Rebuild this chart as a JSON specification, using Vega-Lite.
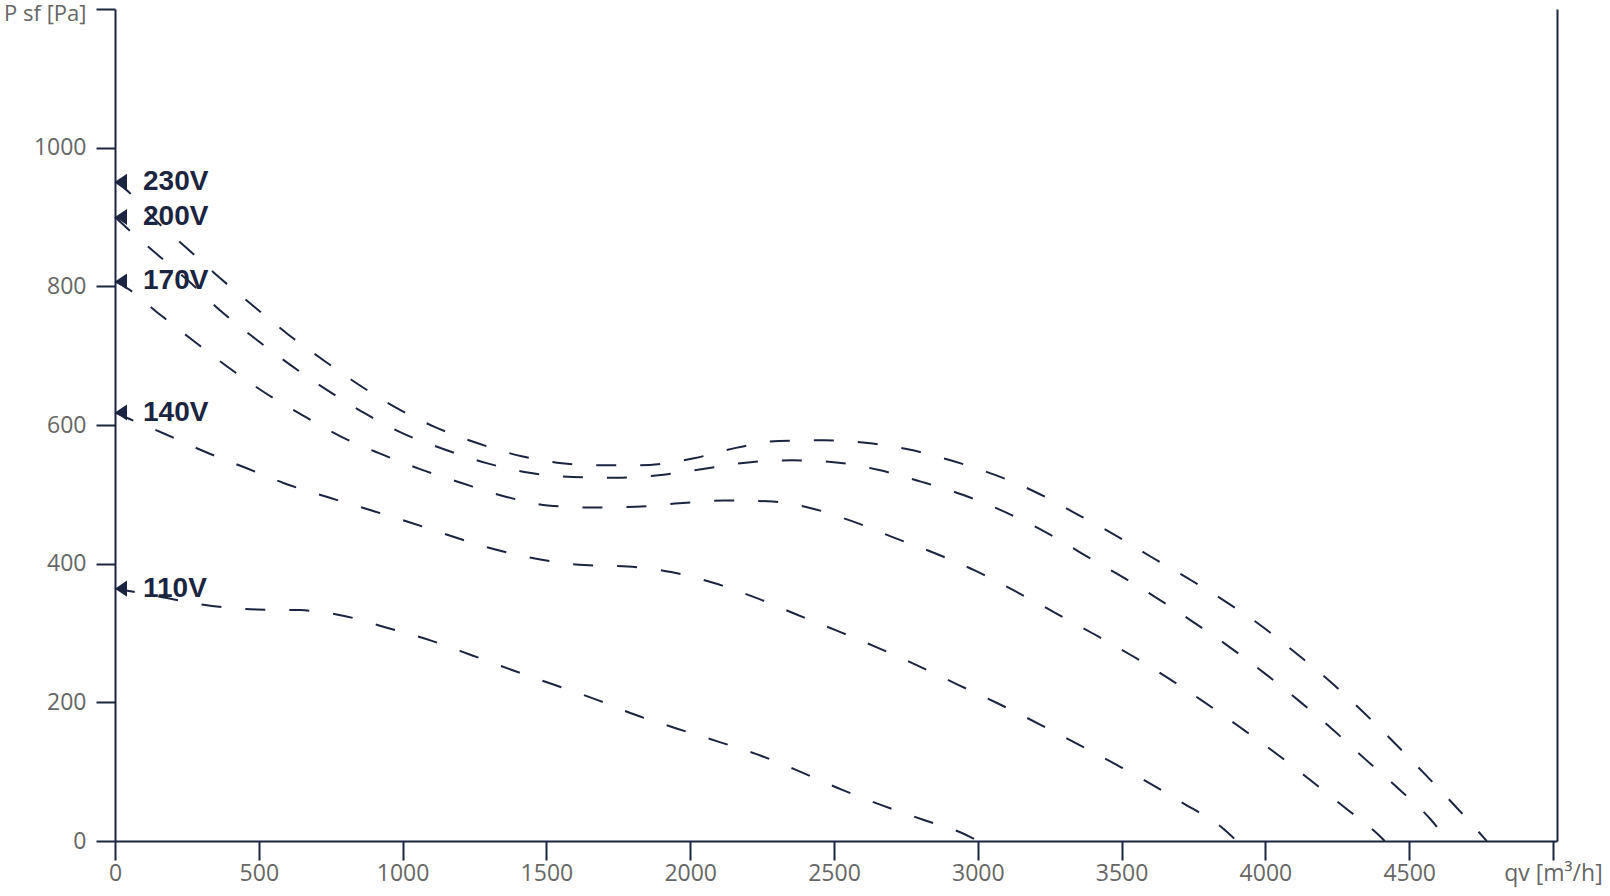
{
  "$schema": "https://vega.github.io/schema/vega-lite/v6.json",
  "width": 1442,
  "height": 832,
  "autosize": {"type": "none"},
  "padding": {"left": 115, "top": 9, "right": 53, "bottom": 55},
  "background": "white",
  "config": {
    "view": {"stroke": null},
    "axis": {
      "grid": false,
      "domainColor": "#1b2440",
      "domainWidth": 2,
      "tickColor": "#1b2440",
      "tickWidth": 2,
      "tickSize": 19,
      "labelFont": "Open Sans",
      "labelFontSize": 23,
      "labelColor": "#666666",
      "labelFlush": false,
      "labelOverlap": false,
      "title": null
    }
  },
  "datasets": {
    "curves": [
      {"v": "230V", "q": 0, "p": 951}, {"v": "230V", "q": 31, "p": 942}, {"v": "230V", "q": 139, "p": 896},
      {"v": "230V", "q": 250, "p": 855}, {"v": "230V", "q": 365, "p": 812}, {"v": "230V", "q": 480, "p": 772},
      {"v": "230V", "q": 601, "p": 731}, {"v": "230V", "q": 723, "p": 694}, {"v": "230V", "q": 848, "p": 658},
      {"v": "230V", "q": 977, "p": 625}, {"v": "230V", "q": 1113, "p": 597}, {"v": "230V", "q": 1259, "p": 574},
      {"v": "230V", "q": 1414, "p": 555}, {"v": "230V", "q": 1554, "p": 545}, {"v": "230V", "q": 1673, "p": 542},
      {"v": "230V", "q": 1825, "p": 542}, {"v": "230V", "q": 2013, "p": 552}, {"v": "230V", "q": 2159, "p": 567},
      {"v": "230V", "q": 2309, "p": 577}, {"v": "230V", "q": 2465, "p": 578}, {"v": "230V", "q": 2618, "p": 574},
      {"v": "230V", "q": 2757, "p": 565}, {"v": "230V", "q": 2914, "p": 548}, {"v": "230V", "q": 3060, "p": 528},
      {"v": "230V", "q": 3202, "p": 503}, {"v": "230V", "q": 3338, "p": 473}, {"v": "230V", "q": 3470, "p": 443},
      {"v": "230V", "q": 3602, "p": 410}, {"v": "230V", "q": 3734, "p": 378}, {"v": "230V", "q": 3863, "p": 345},
      {"v": "230V", "q": 3990, "p": 309}, {"v": "230V", "q": 4112, "p": 269}, {"v": "230V", "q": 4228, "p": 229},
      {"v": "230V", "q": 4340, "p": 186}, {"v": "230V", "q": 4450, "p": 141}, {"v": "230V", "q": 4558, "p": 95},
      {"v": "230V", "q": 4663, "p": 49}, {"v": "230V", "q": 4770, "p": 0},

      {"v": "200V", "q": 0, "p": 900}, {"v": "200V", "q": 31, "p": 888}, {"v": "200V", "q": 141, "p": 848},
      {"v": "200V", "q": 252, "p": 809}, {"v": "200V", "q": 369, "p": 764}, {"v": "200V", "q": 489, "p": 724},
      {"v": "200V", "q": 612, "p": 686}, {"v": "200V", "q": 739, "p": 650}, {"v": "200V", "q": 868, "p": 617},
      {"v": "200V", "q": 1001, "p": 588}, {"v": "200V", "q": 1144, "p": 565}, {"v": "200V", "q": 1292, "p": 545},
      {"v": "200V", "q": 1441, "p": 531}, {"v": "200V", "q": 1592, "p": 525}, {"v": "200V", "q": 1745, "p": 524},
      {"v": "200V", "q": 1899, "p": 528}, {"v": "200V", "q": 2050, "p": 537}, {"v": "200V", "q": 2201, "p": 546},
      {"v": "200V", "q": 2355, "p": 549}, {"v": "200V", "q": 2508, "p": 546}, {"v": "200V", "q": 2657, "p": 535},
      {"v": "200V", "q": 2805, "p": 518}, {"v": "200V", "q": 2950, "p": 499}, {"v": "200V", "q": 3092, "p": 475},
      {"v": "200V", "q": 3229, "p": 447}, {"v": "200V", "q": 3361, "p": 415}, {"v": "200V", "q": 3494, "p": 383},
      {"v": "200V", "q": 3624, "p": 350}, {"v": "200V", "q": 3752, "p": 315}, {"v": "200V", "q": 3878, "p": 279},
      {"v": "200V", "q": 4000, "p": 241}, {"v": "200V", "q": 4120, "p": 201}, {"v": "200V", "q": 4236, "p": 160},
      {"v": "200V", "q": 4350, "p": 117}, {"v": "200V", "q": 4464, "p": 75}, {"v": "200V", "q": 4575, "p": 31},
      {"v": "200V", "q": 4635, "p": 0},

      {"v": "170V", "q": 0, "p": 807}, {"v": "170V", "q": 32, "p": 800}, {"v": "170V", "q": 148, "p": 762},
      {"v": "170V", "q": 268, "p": 723}, {"v": "170V", "q": 391, "p": 684}, {"v": "170V", "q": 516, "p": 648},
      {"v": "170V", "q": 648, "p": 615}, {"v": "170V", "q": 782, "p": 584}, {"v": "170V", "q": 920, "p": 559},
      {"v": "170V", "q": 1063, "p": 536}, {"v": "170V", "q": 1208, "p": 516}, {"v": "170V", "q": 1355, "p": 497},
      {"v": "170V", "q": 1504, "p": 484}, {"v": "170V", "q": 1657, "p": 481}, {"v": "170V", "q": 1811, "p": 482},
      {"v": "170V", "q": 1962, "p": 487}, {"v": "170V", "q": 2115, "p": 491}, {"v": "170V", "q": 2269, "p": 490},
      {"v": "170V", "q": 2420, "p": 480}, {"v": "170V", "q": 2565, "p": 461}, {"v": "170V", "q": 2706, "p": 438},
      {"v": "170V", "q": 2851, "p": 415}, {"v": "170V", "q": 2991, "p": 390}, {"v": "170V", "q": 3127, "p": 361},
      {"v": "170V", "q": 3261, "p": 331}, {"v": "170V", "q": 3397, "p": 300}, {"v": "170V", "q": 3529, "p": 269},
      {"v": "170V", "q": 3658, "p": 236}, {"v": "170V", "q": 3785, "p": 201}, {"v": "170V", "q": 3912, "p": 164},
      {"v": "170V", "q": 4035, "p": 127}, {"v": "170V", "q": 4156, "p": 88}, {"v": "170V", "q": 4277, "p": 48},
      {"v": "170V", "q": 4393, "p": 9}, {"v": "170V", "q": 4415, "p": 0},

      {"v": "140V", "q": 0, "p": 618}, {"v": "140V", "q": 49, "p": 609}, {"v": "140V", "q": 174, "p": 587},
      {"v": "140V", "q": 315, "p": 561}, {"v": "140V", "q": 456, "p": 538}, {"v": "140V", "q": 588, "p": 516},
      {"v": "140V", "q": 747, "p": 495}, {"v": "140V", "q": 890, "p": 477}, {"v": "140V", "q": 1037, "p": 458},
      {"v": "140V", "q": 1182, "p": 438}, {"v": "140V", "q": 1326, "p": 420}, {"v": "140V", "q": 1479, "p": 406},
      {"v": "140V", "q": 1632, "p": 398}, {"v": "140V", "q": 1783, "p": 396}, {"v": "140V", "q": 1934, "p": 388},
      {"v": "140V", "q": 2083, "p": 372}, {"v": "140V", "q": 2227, "p": 351}, {"v": "140V", "q": 2368, "p": 327},
      {"v": "140V", "q": 2512, "p": 303}, {"v": "140V", "q": 2651, "p": 279}, {"v": "140V", "q": 2791, "p": 253},
      {"v": "140V", "q": 2928, "p": 226}, {"v": "140V", "q": 3067, "p": 199}, {"v": "140V", "q": 3300, "p": 150},
      {"v": "140V", "q": 3500, "p": 106}, {"v": "140V", "q": 3700, "p": 58}, {"v": "140V", "q": 3867, "p": 13},
      {"v": "140V", "q": 3900, "p": 0},

      {"v": "110V", "q": 0, "p": 364}, {"v": "110V", "q": 70, "p": 359}, {"v": "110V", "q": 185, "p": 350},
      {"v": "110V", "q": 337, "p": 339}, {"v": "110V", "q": 493, "p": 334}, {"v": "110V", "q": 643, "p": 333},
      {"v": "110V", "q": 793, "p": 325}, {"v": "110V", "q": 942, "p": 308}, {"v": "110V", "q": 1099, "p": 289},
      {"v": "110V", "q": 1240, "p": 268}, {"v": "110V", "q": 1378, "p": 247}, {"v": "110V", "q": 1522, "p": 226},
      {"v": "110V", "q": 1667, "p": 205}, {"v": "110V", "q": 1809, "p": 182}, {"v": "110V", "q": 1955, "p": 162},
      {"v": "110V", "q": 2100, "p": 143}, {"v": "110V", "q": 2246, "p": 123}, {"v": "110V", "q": 2388, "p": 99},
      {"v": "110V", "q": 2527, "p": 74}, {"v": "110V", "q": 2670, "p": 51}, {"v": "110V", "q": 2815, "p": 30},
      {"v": "110V", "q": 2958, "p": 9}, {"v": "110V", "q": 3000, "p": 0}
    ],
    "labels": [
      {"v": "230V", "q": 0, "p": 951},
      {"v": "200V", "q": 0, "p": 900},
      {"v": "170V", "q": 0, "p": 807},
      {"v": "140V", "q": 0, "p": 618},
      {"v": "110V", "q": 0, "p": 364}
    ]
  },
  "layer": [
    {
      "data": {"name": "curves"},
      "mark": {"type": "line", "color": "#1b2440", "strokeWidth": 2, "strokeDash": [20, 24], "interpolate": "monotone"},
      "encoding": {
        "x": {
          "field": "q", "type": "quantitative",
          "scale": {"domain": [0, 5014], "nice": false, "zero": false},
          "axis": {
            "orient": "bottom",
            "values": [0, 500, 1000, 1500, 2000, 2500, 3000, 3500, 4000, 4500, 5000],
            "format": "d",
            "labelPadding": 2,
            "labelExpr": "datum.value == 5000 ? 'qv [m³/h]' : datum.label"
          }
        },
        "y": {
          "field": "p", "type": "quantitative",
          "scale": {"domain": [0, 1200], "nice": false, "zero": false},
          "axis": {
            "orient": "left",
            "values": [0, 200, 400, 600, 800, 1000, 1200],
            "format": "d",
            "labelPadding": 10,
            "labelFontSize": {"condition": {"test": "datum.value == 1200", "value": 22}, "value": 23},
            "labelOffset": {"condition": {"test": "datum.value == 1200", "value": 4}, "value": 0},
            "labelExpr": "datum.value == 1200 ? 'P sf [Pa]' : datum.label"
          }
        },
        "detail": {"field": "v", "type": "nominal"},
        "order": {"field": "q", "type": "quantitative"}
      }
    },
    {
      "data": {"name": "labels"},
      "mark": {"type": "point", "shape": "M0,0L1,-0.667L1,0.667Z", "size": 576, "filled": true, "opacity": 1, "color": "#1b2440", "strokeWidth": 0},
      "encoding": {
        "x": {"field": "q", "type": "quantitative", "scale": {"domain": [0, 5014], "nice": false, "zero": false}},
        "y": {"field": "p", "type": "quantitative", "scale": {"domain": [0, 1200], "nice": false, "zero": false}, "axis": null}
      }
    },
    {
      "data": {"name": "labels"},
      "mark": {"type": "text", "align": "left", "baseline": "middle", "dx": 28, "dy": 0, "font": "Liberation Sans", "fontWeight": "bold", "fontSize": 28, "color": "#1b2440"},
      "encoding": {
        "x": {"field": "q", "type": "quantitative", "scale": {"domain": [0, 5014], "nice": false, "zero": false}},
        "y": {
          "field": "p", "type": "quantitative",
          "scale": {"domain": [0, 1200], "nice": false, "zero": false},
          "axis": {"orient": "right", "labels": false, "ticks": false, "domain": true}
        },
        "text": {"field": "v", "type": "nominal"}
      }
    }
  ],
  "resolve": {"axis": {"y": "independent"}}
}
